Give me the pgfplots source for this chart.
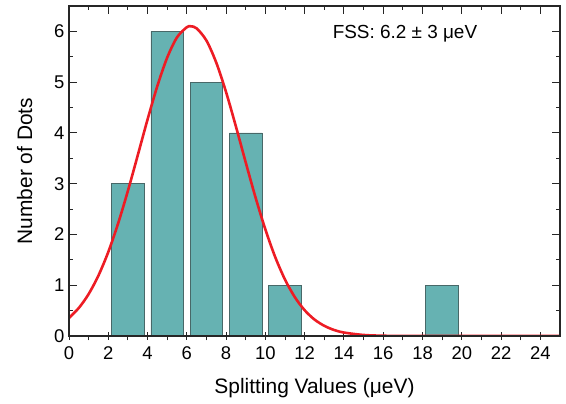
\documentclass[border=0pt]{standalone}
\usepackage{fontspec}
\setmainfont{Liberation Sans}
\usepackage{pgfplots}
\pgfplotsset{compat=1.18}
\definecolor{barfill}{RGB}{102,178,178}
\definecolor{baredge}{RGB}{72,104,104}
\definecolor{fitred}{RGB}{237,28,36}
\begin{document}
\begin{tikzpicture}
\pgfplotsset{
  frame/.style={
    scale only axis, width=491bp, height=330bp,
    xmin=0, xmax=25, ymin=0, ymax=6.5,
    xtick={0,2,...,24}, ytick={0,1,...,6},
    minor x tick num=1, minor y tick num=1,
    axis line style={line width=1.1pt, black!85},
    every tick/.style={line width=1pt, black!85},
    /pgf/number format/assume math mode=true,
  }
}
\begin{axis}[frame, name=main,
    xtick pos=left, ytick pos=left, tick align=inside,
    major tick length=8bp, minor tick length=4.5bp,
    major x tick style={yshift=-4bp},
    minor x tick style={yshift=-4.5bp},
    tick label style={font=\fontsize{18.5}{20}\selectfont},
    xticklabel style={yshift=-7bp},
    yticklabel style={xshift=-1bp},
    label style={font=\fontsize{21}{24}\selectfont},
    xlabel={Splitting Values (μeV)},
    ylabel={Number of Dots},
    xlabel style={yshift=-12bp},
    ylabel style={yshift=15bp},
]
\addplot[ybar, bar width=1.66, fill=barfill, draw=baredge, line width=0.8pt]
  coordinates {(3,3) (5,6) (7,5) (9,4) (11,1) (19,1)};
\addplot[fitred, line width=2.6pt, smooth, tension=0.5] coordinates {
  (0,0.356) (0.5,0.552) (1,0.826) (1.5,1.191) (2,1.654) (2.5,2.216)
  (3,2.860) (3.5,3.558) (4,4.265) (4.5,4.926) (5,5.484) (5.5,5.883)
  (6,6.082) (6.2,6.100) (6.5,6.060) (7,5.818) (7.5,5.383) (8,4.801)
  (8.5,4.125) (9,3.416) (9.5,2.726) (10,2.097) (10.5,1.554) (11,1.110)
  (11.5,0.764) (12,0.507) (12.5,0.324) (13,0.200) (13.5,0.118) (14,0.068)
  (15,0.020) (16,0.005) (17,0.001) (18,0) (25,0)
};
\node[anchor=west, font=\fontsize{19}{22}\selectfont] at (axis cs:13.25,5.95) {FSS: 6.2 ± 3 μeV};
\end{axis}
\begin{axis}[frame,
    xtick pos=right, ytick pos=right, tick align=inside,
    major tick length=8bp, minor tick length=4bp,
    xticklabels={}, yticklabels={},
]
\end{axis}
\pgfresetboundingbox
\path ([xshift=-69bp,yshift=-68bp]main.south west) rectangle ([xshift=6bp,yshift=6bp]main.north east);
\end{tikzpicture}
\end{document}
